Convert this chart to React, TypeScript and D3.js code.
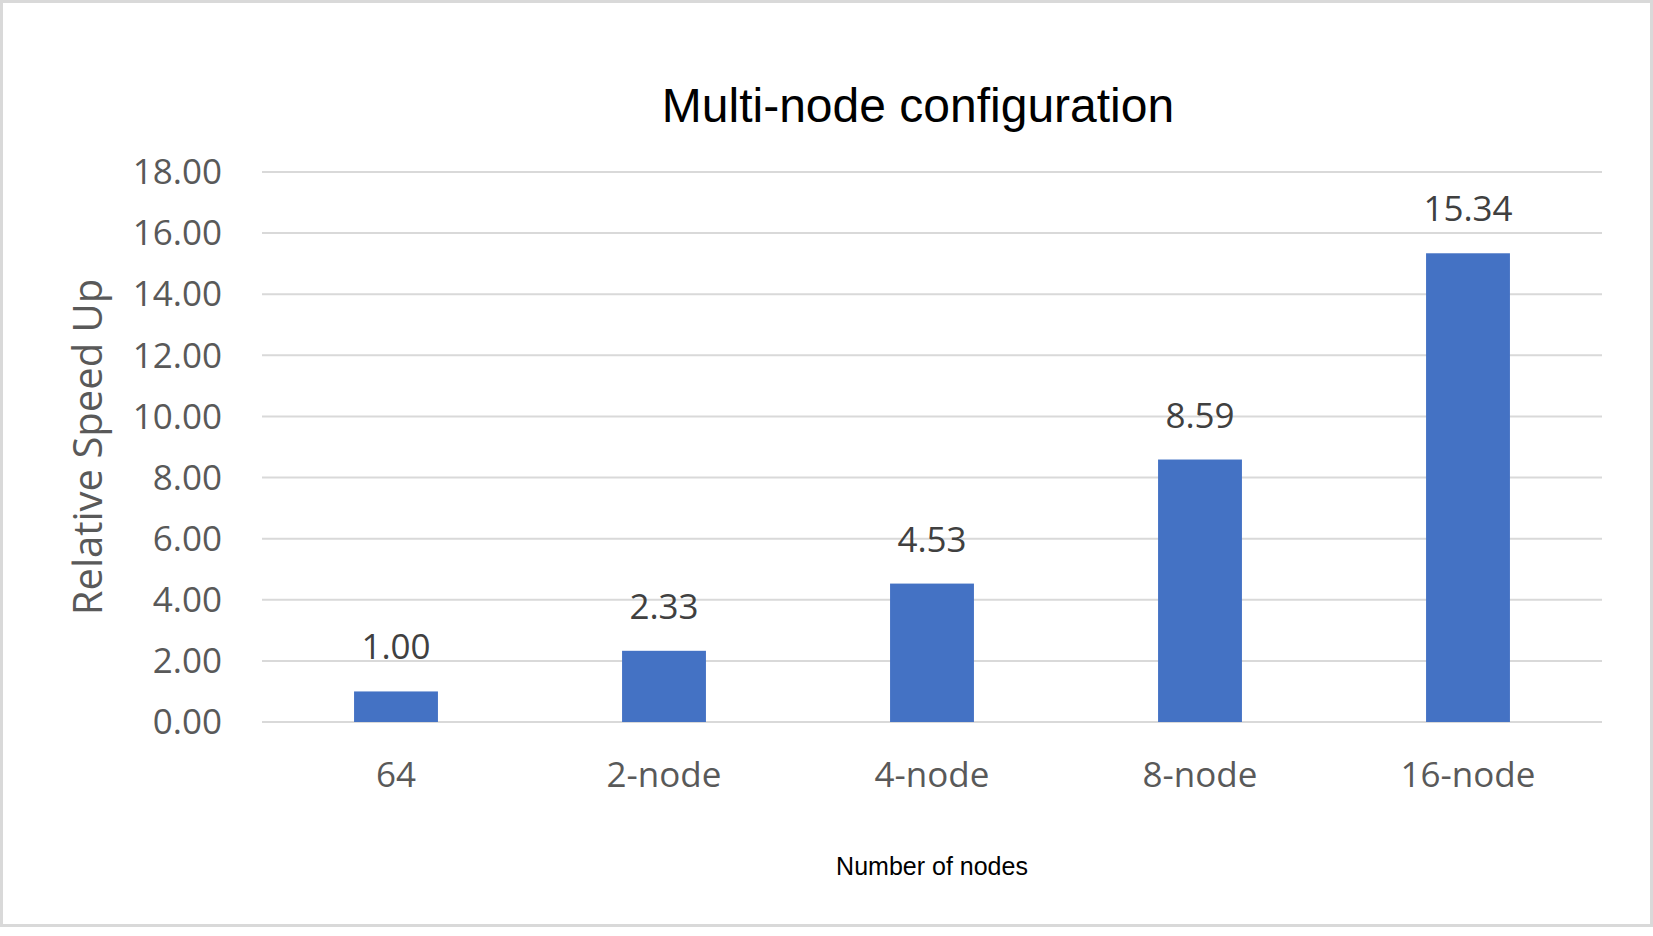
import { useEffect, useRef } from "react";
import * as d3 from "d3";

const categories = ["64", "2-node", "4-node", "8-node", "16-node"];
const speedUp = [1.0, 2.33, 4.53, 8.59, 15.34];
const yTicks = [0, 2, 4, 6, 8, 10, 12, 14, 16, 18];

export default function App() {
  const ref = useRef<HTMLDivElement>(null);

  useEffect(() => {
    if (!ref.current) return;
    const container = ref.current;
    container.innerHTML = "";

    const width = 1653;
    const height = 936;
    const plot = { left: 262, right: 1602, top: 172, bottom: 722 };
    const labelFont = "'Open Sans', 'Noto Sans', sans-serif";

    const svg = d3
      .select(container)
      .append("svg")
      .attr("width", width)
      .attr("height", height)
      .style("display", "block");

    svg.append("rect").attr("width", width).attr("height", height).attr("fill", "#ffffff");

    // chart area border
    svg
      .append("rect")
      .attr("x", 1.5)
      .attr("y", 1.5)
      .attr("width", width - 3)
      .attr("height", 924)
      .attr("fill", "none")
      .attr("stroke", "#d9d9d9")
      .attr("stroke-width", 3);

    const gap = 0.687;
    const x = d3
      .scaleBand<string>()
      .domain(categories)
      .range([plot.left, plot.right])
      .paddingInner(gap)
      .paddingOuter(gap / 2);

    const y = d3.scaleLinear().domain([0, 18]).range([plot.bottom, plot.top]);

    // gridlines
    svg
      .append("g")
      .selectAll("line")
      .data(yTicks)
      .join("line")
      .attr("x1", plot.left)
      .attr("x2", plot.right)
      .attr("y1", (d) => y(d))
      .attr("y2", (d) => y(d))
      .attr("stroke", "#d9d9d9")
      .attr("stroke-width", 2);

    // y tick labels
    svg
      .append("g")
      .selectAll("text")
      .data(yTicks)
      .join("text")
      .attr("x", 222)
      .attr("y", (d) => y(d))
      .attr("dy", "0.35em")
      .attr("text-anchor", "end")
      .style("font-family", labelFont)
      .style("font-size", "35px")
      .style("fill", "#595959")
      .text((d) => d.toFixed(2));

    // bars
    svg
      .append("g")
      .selectAll("rect")
      .data(speedUp)
      .join("rect")
      .attr("x", (_, i) => x(categories[i])!)
      .attr("width", x.bandwidth())
      .attr("y", (d) => y(d))
      .attr("height", (d) => y(0) - y(d))
      .attr("fill", "#4472c4");

    // data labels
    svg
      .append("g")
      .selectAll("text")
      .data(speedUp)
      .join("text")
      .attr("x", (_, i) => x(categories[i])! + x.bandwidth() / 2)
      .attr("y", (d) => y(d) - 32)
      .attr("text-anchor", "middle")
      .style("font-family", labelFont)
      .style("font-size", "35px")
      .style("fill", "#404040")
      .text((d) => d.toFixed(2));

    // x tick labels
    svg
      .append("g")
      .selectAll("text")
      .data(categories)
      .join("text")
      .attr("x", (d) => x(d)! + x.bandwidth() / 2)
      .attr("y", 787)
      .attr("text-anchor", "middle")
      .style("font-family", labelFont)
      .style("font-size", "35px")
      .style("fill", "#595959")
      .text((d) => d);

    // title
    svg
      .append("text")
      .attr("x", 918)
      .attr("y", 122)
      .attr("text-anchor", "middle")
      .style("font-family", "'Liberation Sans', Arial, sans-serif")
      .style("font-size", "48px")
      .style("fill", "#000000")
      .text("Multi-node configuration");

    // y axis title
    svg
      .append("text")
      .attr("transform", `translate(102, ${(plot.top + plot.bottom) / 2}) rotate(-90)`)
      .attr("text-anchor", "middle")
      .style("font-family", labelFont)
      .style("font-size", "40px")
      .style("fill", "#595959")
      .text("Relative Speed Up");

    // x axis title
    svg
      .append("text")
      .attr("x", (plot.left + plot.right) / 2)
      .attr("y", 875)
      .attr("text-anchor", "middle")
      .style("font-family", "'Liberation Sans', Arial, sans-serif")
      .style("font-size", "25px")
      .style("fill", "#000000")
      .text("Number of nodes");
  }, []);

  return <div ref={ref} style={{ position: "absolute", left: 0, top: 0 }} />;
}
